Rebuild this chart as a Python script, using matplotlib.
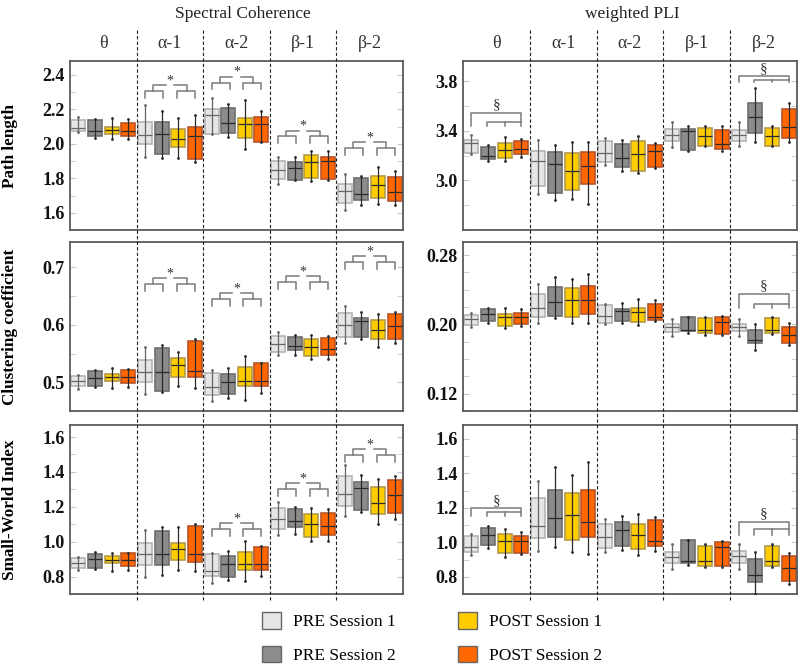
import numpy as np
import matplotlib.pyplot as plt
from matplotlib.patches import Patch
from matplotlib.lines import Line2D
from matplotlib.transforms import blended_transform_factory

plt.rcParams['font.family'] = ['Liberation Serif', 'DejaVu Serif']

bands = ['θ', 'α-1', 'α-2', 'β-1', 'β-2']
groups = ['PRE Session 1', 'PRE Session 2', 'POST Session 1', 'POST Session 2']
face_colors = ['#e6e6e6', '#8c8c8c', '#ffcc00', '#ff6600']
edge_colors = ['#b4b4b4', '#6e6e6e', '#b39a4a', '#b5552a']
line_colors = ['#666666', '#2a2a2a', '#2a2a2a', '#2a2a2a']

# (whisker low, q1, median, q3, whisker high) -- band by band, PRE1, PRE2, POST1, POST2
sc_path = [
    (2.068, 2.072, 2.091, 2.135, 2.154), (2.034, 2.045, 2.072, 2.138, 2.144),
    (2.030, 2.059, 2.080, 2.100, 2.150), (2.030, 2.044, 2.076, 2.121, 2.144),
    (1.922, 1.998, 2.053, 2.125, 2.224), (1.920, 1.939, 2.059, 2.129, 2.190),
    (1.917, 1.983, 2.025, 2.083, 2.150), (1.892, 1.911, 2.044, 2.100, 2.167),
    (2.055, 2.055, 2.167, 2.201, 2.263), (2.038, 2.064, 2.121, 2.205, 2.233),
    (1.970, 2.034, 2.116, 2.152, 2.254), (2.008, 2.011, 2.116, 2.154, 2.192),
    (1.769, 1.793, 1.846, 1.903, 1.926), (1.788, 1.788, 1.860, 1.894, 1.926),
    (1.784, 1.802, 1.892, 1.935, 1.958), (1.788, 1.797, 1.901, 1.926, 1.960),
    (1.614, 1.657, 1.727, 1.769, 1.826), (1.646, 1.674, 1.706, 1.799, 1.813),
    (1.651, 1.688, 1.763, 1.814, 1.866), (1.646, 1.667, 1.723, 1.809, 1.841),
]
sc_clust = [
    (0.489, 0.494, 0.503, 0.511, 0.513), (0.491, 0.493, 0.507, 0.519, 0.522),
    (0.490, 0.503, 0.509, 0.515, 0.525), (0.491, 0.498, 0.510, 0.522, 0.523),
    (0.480, 0.500, 0.517, 0.538, 0.562), (0.483, 0.485, 0.517, 0.560, 0.565),
    (0.493, 0.510, 0.530, 0.543, 0.553), (0.490, 0.509, 0.519, 0.571, 0.576),
    (0.467, 0.478, 0.491, 0.516, 0.522), (0.473, 0.479, 0.501, 0.515, 0.525),
    (0.470, 0.493, 0.502, 0.526, 0.546), (0.482, 0.493, 0.503, 0.533, 0.534),
    (0.547, 0.553, 0.566, 0.581, 0.587), (0.547, 0.556, 0.563, 0.579, 0.583),
    (0.540, 0.546, 0.562, 0.576, 0.582), (0.540, 0.547, 0.558, 0.577, 0.581),
    (0.569, 0.578, 0.599, 0.621, 0.632), (0.576, 0.578, 0.607, 0.612, 0.622),
    (0.562, 0.575, 0.591, 0.609, 0.619), (0.569, 0.576, 0.598, 0.619, 0.622),
]
sc_swi = [
    (0.838, 0.849, 0.877, 0.905, 0.913), (0.843, 0.849, 0.900, 0.932, 0.943),
    (0.834, 0.877, 0.894, 0.918, 0.937), (0.839, 0.858, 0.894, 0.933, 0.937),
    (0.800, 0.868, 0.932, 0.990, 1.065), (0.811, 0.868, 0.932, 1.059, 1.082),
    (0.838, 0.894, 0.960, 0.993, 1.082), (0.834, 0.886, 0.932, 1.091, 1.102),
    (0.762, 0.802, 0.834, 0.928, 0.933), (0.783, 0.800, 0.871, 0.918, 0.947),
    (0.772, 0.838, 0.871, 0.943, 1.003), (0.806, 0.838, 0.871, 0.969, 0.975),
    (1.040, 1.072, 1.129, 1.191, 1.228), (1.046, 1.082, 1.116, 1.187, 1.200),
    (1.003, 1.027, 1.103, 1.159, 1.194), (1.003, 1.037, 1.091, 1.166, 1.185),
    (1.146, 1.206, 1.275, 1.375, 1.440), (1.172, 1.181, 1.309, 1.341, 1.380),
    (1.102, 1.159, 1.224, 1.313, 1.360), (1.131, 1.164, 1.270, 1.352, 1.378),
]
wpli_path = [
    (3.211, 3.224, 3.304, 3.330, 3.364), (3.158, 3.174, 3.201, 3.272, 3.285),
    (3.161, 3.185, 3.246, 3.304, 3.351), (3.190, 3.211, 3.251, 3.317, 3.333),
    (2.889, 2.955, 3.161, 3.238, 3.330), (2.844, 2.902, 3.132, 3.232, 3.290),
    (2.850, 2.923, 3.079, 3.219, 3.312), (2.810, 2.968, 3.119, 3.227, 3.312),
    (3.121, 3.153, 3.219, 3.320, 3.343), (3.079, 3.106, 3.180, 3.298, 3.330),
    (3.061, 3.074, 3.211, 3.320, 3.356), (3.100, 3.106, 3.238, 3.285, 3.306),
    (3.272, 3.317, 3.370, 3.412, 3.475), (3.238, 3.246, 3.396, 3.417, 3.436),
    (3.277, 3.277, 3.356, 3.422, 3.438), (3.240, 3.254, 3.293, 3.409, 3.436),
    (3.277, 3.317, 3.370, 3.404, 3.475), (3.312, 3.383, 3.510, 3.628, 3.747),
    (3.277, 3.277, 3.356, 3.422, 3.436), (3.312, 3.343, 3.430, 3.581, 3.623),
]
wpli_clust = [
    (0.197, 0.199, 0.206, 0.211, 0.213), (0.201, 0.204, 0.212, 0.218, 0.219),
    (0.196, 0.198, 0.209, 0.212, 0.219), (0.198, 0.200, 0.209, 0.213, 0.218),
    (0.202, 0.209, 0.219, 0.235, 0.247), (0.207, 0.210, 0.226, 0.243, 0.255),
    (0.202, 0.209, 0.228, 0.242, 0.252), (0.202, 0.212, 0.228, 0.244, 0.258),
    (0.200, 0.202, 0.210, 0.222, 0.224), (0.202, 0.204, 0.215, 0.218, 0.225),
    (0.199, 0.203, 0.214, 0.219, 0.229), (0.204, 0.205, 0.208, 0.224, 0.228),
    (0.186, 0.191, 0.197, 0.200, 0.206), (0.190, 0.192, 0.193, 0.209, 0.209),
    (0.188, 0.190, 0.194, 0.207, 0.208), (0.188, 0.189, 0.203, 0.208, 0.210),
    (0.186, 0.192, 0.197, 0.200, 0.206), (0.170, 0.179, 0.182, 0.194, 0.200),
    (0.189, 0.190, 0.194, 0.207, 0.208), (0.176, 0.179, 0.188, 0.197, 0.201),
]
wpli_swi = [
    (0.929, 0.946, 0.974, 1.037, 1.046), (0.967, 0.986, 1.043, 1.084, 1.094),
    (0.914, 0.938, 1.009, 1.046, 1.079), (0.933, 0.938, 1.005, 1.037, 1.062),
    (0.952, 1.024, 1.094, 1.255, 1.356), (0.974, 1.033, 1.141, 1.306, 1.435),
    (0.942, 1.014, 1.160, 1.287, 1.392), (0.933, 1.028, 1.117, 1.306, 1.467),
    (0.942, 0.965, 1.033, 1.109, 1.136), (0.957, 0.976, 1.071, 1.119, 1.151),
    (0.929, 0.961, 1.043, 1.109, 1.166), (0.952, 0.976, 1.009, 1.128, 1.147),
    (0.847, 0.882, 0.914, 0.946, 0.990), (0.866, 0.882, 0.891, 1.014, 1.014),
    (0.857, 0.863, 0.889, 0.980, 0.990), (0.857, 0.863, 0.971, 0.999, 1.009),
    (0.847, 0.882, 0.918, 0.952, 0.990), (0.700, 0.772, 0.810, 0.901, 0.946),
    (0.857, 0.863, 0.889, 0.980, 0.990), (0.756, 0.775, 0.853, 0.918, 0.938),
]

# significance marks: (band, base of bracket)
sc_path_sig = [(1, 2.268), (2, 2.315), (3, 2.002), (4, 1.936)]
sc_clust_sig = [(1, 0.659), (2, 0.633), (3, 0.663), (4, 0.697)]
sc_swi_sig = [(2, 1.031), (3, 1.262), (4, 1.459)]
# (band, base, inner line, outer line)
wpli_path_sec = [(0, 3.444, 3.475, 3.549), (4, 3.792, 3.813, 3.840)]
wpli_clust_sec = [(4, 0.2186, 0.2231, 0.2353)]
wpli_swi_sec = [(0, 1.151, 1.174, 1.198), (4, 1.043, 1.079, 1.119)]

row_labels = ['Path length', 'Clustering coefficient', 'Small-World Index']
col_titles = ['Spectral Coherence', 'weighted PLI']

panels = [
    [(sc_path, (1.52, 2.48), [1.6, 1.8, 2.0, 2.2, 2.4], ['1.6', '1.8', '2.0', '2.2', '2.4'], 0.1, sc_path_sig, None),
     (wpli_path, (2.625, 3.965), [3.0, 3.4, 3.8], ['3.0', '3.4', '3.8'], 0.2, None, wpli_path_sec)],
    [(sc_clust, (0.454, 0.744), [0.5, 0.6, 0.7], ['0.5', '0.6', '0.7'], 0.05, sc_clust_sig, None),
     (wpli_clust, (0.1026, 0.295), [0.12, 0.20, 0.28], ['0.12', '0.20', '0.28'], 0.02, None, wpli_clust_sec)],
    [(sc_swi, (0.717, 1.669), [0.8, 1.0, 1.2, 1.4, 1.6], ['0.8', '1.0', '1.2', '1.4', '1.6'], 0.1, sc_swi_sig, None),
     (wpli_swi, (0.72, 1.681), [0.8, 1.0, 1.2, 1.4, 1.6], ['0.8', '1.0', '1.2', '1.4', '1.6'], 0.1, None, wpli_swi_sec)],
]

W, H = 798, 666
fig = plt.figure(figsize=(W / 100, H / 100), dpi=100)

col_x = [(70, 403), (463, 797)]
row_y = [(61, 230), (242, 411), (425, 594)]
br_col = '#7a7a7a'

for r, row in enumerate(panels):
    for c, (data, ylim, ticks, tlabels, minor, sig, sec) in enumerate(row):
        x0, x1 = col_x[c]
        y0, y1 = row_y[r]
        ax = fig.add_axes([x0 / W, 1 - y1 / H, (x1 - x0) / W, (y1 - y0) / H])
        ax.set_facecolor('none')
        ax.set_xlim(0, 5)
        ax.set_ylim(*ylim)
        stats = np.array(data)
        pos = np.array([b + 0.125 + 0.25 * g for b in range(5) for g in range(4)])
        gi = np.tile(np.arange(4), 5)
        w = 0.21
        for g in range(4):
            m = gi == g
            s = stats[m]
            ax.bar(pos[m], s[:, 3] - s[:, 1], width=w, bottom=s[:, 1],
                   color=face_colors[g], edgecolor=edge_colors[g], linewidth=1.2, zorder=2)
            ax.vlines(pos[m], s[:, 0], s[:, 4], color=line_colors[g], lw=0.9, zorder=3)
            ax.hlines(s[:, 2], pos[m] - w / 2, pos[m] + w / 2, color=line_colors[g], lw=0.9, zorder=3)
            ax.plot(np.r_[pos[m], pos[m]], np.r_[s[:, 0], s[:, 4]], ls='none', marker='o',
                    ms=1.0, color=line_colors[g], zorder=3)

        rng = ylim[1] - ylim[0]
        if sig:
            for b, base in sig:
                c1, c2, c3, c4 = [b + 0.125 + 0.25 * k for k in range(4)]
                h1 = base + 0.042 * rng
                h2 = h1 + 0.035 * rng
                kw = dict(color=br_col, lw=1.1, zorder=3)
                m1 = (c1 + c2) / 2
                ax.plot([c1, c1, c2 + 0.02, c2 + 0.02], [base, h1, h1, base], **kw)
                ax.plot([m1, m1, c2 + 0.06], [h1, h2, h2], **kw)
                m2 = (c3 + c4) / 2
                ax.plot([c3 - 0.02, c3 - 0.02, c4, c4], [base, h1, h1, base], **kw)
                ax.plot([c3 - 0.06, m2, m2], [h2, h2, h1], **kw)
                ax.annotate('*', (b + 0.5, h2), xytext=(0, 3), textcoords='offset points',
                            ha='center', va='center', fontsize=10, color='#333333')
        if sec:
            for b, base, inner, outer in sec:
                c1, c2, c3, c4 = [b + 0.125 + 0.25 * k for k in range(4)]
                kw = dict(color=br_col, lw=1.1, zorder=3)
                ax.plot([c1, c1, c4, c4], [base, outer, outer, base], **kw)
                ax.plot([c2 - 0.02, c2 - 0.02, c4], [base, inner, inner], **kw)
                ax.plot([c3, c3], [inner, base], **kw)
                ax.annotate('§', (b + 0.5, outer), xytext=(0, 1), textcoords='offset points',
                            ha='center', va='bottom', fontsize=11, color='#333333')

        ax.set_xticks([])
        ax.set_yticks(ticks, labels=tlabels, fontweight='bold', fontsize=13)
        ax.set_yticks(np.arange(ylim[0] - ylim[0] % minor, ylim[1], minor), minor=True)
        ax.tick_params(axis='y', which='both', direction='in', length=4, color='#c8c8c8',
                       right=True, pad=4, labelcolor='#111111')
        for sp in ax.spines.values():
            sp.set_color('#5a5a5a')
            sp.set_linewidth(1.3)

        trans = blended_transform_factory(ax.transData, fig.transFigure)
        if r == 0:
            for b in range(1, 5):
                fig.add_artist(Line2D([b, b], [1 - 600 / H, 1 - 28 / H], transform=trans,
                                      color='#222222', lw=0.8, ls=(0, (3, 2)), zorder=5))
            for b, lab in enumerate(bands):
                ax.text(b + 0.5, 1 - 44 / H, lab, transform=trans, ha='center', va='center',
                        fontsize=13, color='#333333')

        if c == 0:
            fig.text(10 / W, 1 - (y0 + y1) / 2 / H, row_labels[r], rotation=90,
                     ha='center', va='center', fontsize=12.3, fontweight='bold')

fig.text(243 / W, 1 - 14 / H, col_titles[0], ha='center', va='center', fontsize=12.5, color='#222222')
fig.text(632 / W, 1 - 14 / H, col_titles[1], ha='center', va='center', fontsize=12.5, color='#222222')

handles = [Patch(facecolor=face_colors[g], edgecolor='#666666', lw=1) for g in range(4)]
fig.legend(handles, groups, ncol=2, loc='center', bbox_to_anchor=(432 / W, 1 - 638 / H),
           frameon=False, fontsize=12.5, handlelength=1.1, handleheight=1.1,
           columnspacing=3.6, labelspacing=0.9, handletextpad=0.7)

fig.savefig('out.png', dpi=100)
